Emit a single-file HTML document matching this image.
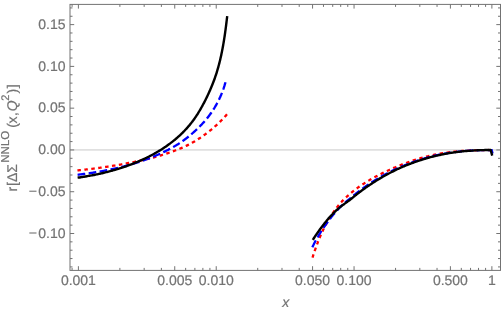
<!DOCTYPE html>
<html><head><meta charset="utf-8"><style>
html,body{margin:0;padding:0;background:#fff;}
body{width:501px;height:311px;overflow:hidden;}
svg{display:block;font-family:"Liberation Sans",sans-serif;will-change:transform;}
text{text-rendering:geometricPrecision;stroke:#737373;stroke-width:0.2px;}
</style></head><body>
<svg width="501" height="311" viewBox="0 0 501 311">
<rect x="0" y="0" width="501" height="311" fill="#fff"/>
<line x1="70.00" y1="149.95" x2="500.50" y2="149.95" stroke="#c8c8c8" stroke-width="1"/>
<path d="M77.43,170.41 C77.61,170.39 78.16,170.34 78.52,170.30 C78.88,170.26 79.25,170.23 79.61,170.19 C79.97,170.15 80.34,170.11 80.70,170.07 C81.06,170.04 81.43,170.00 81.79,169.96 C82.15,169.92 82.52,169.88 82.88,169.84 C83.25,169.80 83.61,169.76 83.97,169.72 C84.34,169.68 84.70,169.64 85.06,169.60 C85.43,169.56 85.79,169.52 86.16,169.48 C86.52,169.44 86.88,169.39 87.25,169.35 C87.61,169.31 87.98,169.27 88.34,169.22 C88.70,169.18 89.07,169.14 89.43,169.10 C89.80,169.05 90.16,169.01 90.52,168.97 C90.89,168.92 91.25,168.88 91.62,168.83 C91.98,168.79 92.34,168.74 92.71,168.70 C93.07,168.65 93.44,168.61 93.80,168.56 C94.17,168.52 94.53,168.47 94.89,168.42 C95.26,168.38 95.62,168.33 95.99,168.28 C96.35,168.24 96.71,168.19 97.08,168.14 C97.44,168.09 97.81,168.04 98.17,168.00 C98.54,167.95 98.90,167.90 99.26,167.85 C99.63,167.80 99.99,167.75 100.36,167.70 C100.72,167.65 101.08,167.60 101.45,167.55 C101.81,167.50 102.18,167.45 102.54,167.40 C102.90,167.34 103.27,167.29 103.63,167.24 C104.00,167.19 104.36,167.13 104.72,167.08 C105.09,167.03 105.45,166.97 105.82,166.92 C106.18,166.87 106.54,166.81 106.91,166.76 C107.27,166.70 107.63,166.65 108.00,166.59 C108.36,166.54 108.72,166.48 109.09,166.43 C109.45,166.37 109.82,166.31 110.18,166.26 C110.54,166.20 110.91,166.14 111.27,166.08 C111.63,166.03 112.00,165.97 112.36,165.91 C112.72,165.85 113.08,165.79 113.45,165.73 C113.81,165.67 114.17,165.61 114.54,165.55 C114.90,165.49 115.26,165.43 115.63,165.37 C115.99,165.31 116.35,165.25 116.71,165.18 C117.08,165.12 117.44,165.06 117.80,164.99 C118.16,164.93 118.53,164.87 118.89,164.80 C119.25,164.74 119.61,164.68 119.97,164.61 C120.34,164.55 120.70,164.48 121.06,164.42 C121.42,164.35 121.78,164.28 122.15,164.22 C122.51,164.15 122.87,164.08 123.23,164.01 C123.59,163.95 123.95,163.88 124.32,163.81 C124.68,163.74 125.04,163.67 125.40,163.60 C125.76,163.53 126.12,163.46 126.48,163.39 C126.84,163.32 127.20,163.25 127.56,163.18 C127.92,163.11 128.29,163.04 128.65,162.96 C129.01,162.89 129.37,162.82 129.73,162.74 C130.09,162.67 130.45,162.60 130.81,162.52 C131.17,162.45 131.53,162.37 131.89,162.30 C132.25,162.22 132.60,162.15 132.96,162.07 C133.32,161.99 133.68,161.91 134.04,161.84 C134.40,161.76 134.76,161.68 135.12,161.61 C135.48,161.53 135.84,161.47 136.19,161.40 C136.55,161.33 136.91,161.26 137.27,161.19 C137.63,161.11 137.99,161.04 138.34,160.97 C138.70,160.90 139.06,160.82 139.42,160.75 C139.77,160.68 140.13,160.60 140.49,160.53 C140.85,160.45 141.20,160.38 141.56,160.30 C141.92,160.23 142.27,160.15 142.63,160.07 C142.99,160.00 143.34,159.92 143.70,159.84 C144.05,159.76 144.41,159.69 144.77,159.61 C145.12,159.53 145.48,159.45 145.83,159.37 C146.19,159.29 146.54,159.21 146.90,159.13 C147.25,159.04 147.61,158.96 147.96,158.88 C148.32,158.80 148.67,158.71 149.03,158.63 C149.38,158.55 149.74,158.46 150.09,158.38 C150.44,158.29 150.80,158.19 151.15,158.10 C151.50,158.00 151.86,157.91 152.21,157.81 C152.56,157.72 152.92,157.62 153.27,157.52 C153.62,157.43 153.97,157.33 154.33,157.23 C154.68,157.14 155.03,157.04 155.38,156.94 C155.73,156.84 156.08,156.74 156.44,156.64 C156.79,156.54 157.14,156.44 157.49,156.34 C157.84,156.24 158.19,156.14 158.54,156.03 C158.89,155.93 159.24,155.83 159.59,155.72 C159.94,155.62 160.29,155.52 160.64,155.41 C160.99,155.31 161.34,155.20 161.69,155.09 C162.04,154.99 162.39,154.88 162.73,154.77 C163.08,154.66 163.43,154.56 163.78,154.45 C164.13,154.34 164.47,154.23 164.82,154.12 C165.17,154.01 165.52,153.90 165.86,153.78 C166.21,153.67 166.56,153.56 166.90,153.45 C167.25,153.33 167.59,153.22 167.94,153.11 C168.29,152.99 168.63,152.88 168.98,152.76 C169.32,152.64 169.67,152.53 170.01,152.41 C170.36,152.29 170.70,152.17 171.04,152.04 C171.39,151.92 171.73,151.80 172.07,151.67 C172.42,151.55 172.76,151.43 173.10,151.30 C173.45,151.17 173.79,151.05 174.13,150.92 C174.47,150.79 174.81,150.66 175.15,150.53 C175.49,150.40 175.83,150.27 176.17,150.14 C176.51,150.01 176.85,149.88 177.19,149.74 C177.53,149.61 177.87,149.47 178.21,149.34 C178.55,149.20 178.88,149.06 179.22,148.93 C179.56,148.79 179.89,148.65 180.23,148.51 C180.57,148.37 180.90,148.23 181.24,148.08 C181.57,147.94 181.91,147.80 182.24,147.65 C182.57,147.51 182.91,147.36 183.24,147.21 C183.57,147.07 183.91,146.92 184.24,146.77 C184.57,146.62 184.90,146.47 185.23,146.31 C185.56,146.16 185.89,146.01 186.22,145.85 C186.55,145.70 186.88,145.54 187.20,145.38 C187.53,145.22 187.86,145.06 188.19,144.90 C188.51,144.74 188.84,144.58 189.16,144.41 C189.49,144.25 189.81,144.09 190.14,143.91 C190.46,143.74 190.78,143.57 191.11,143.39 C191.43,143.21 191.75,143.03 192.07,142.85 C192.39,142.67 192.71,142.49 193.03,142.31 C193.35,142.12 193.67,141.94 193.99,141.75 C194.30,141.57 194.62,141.38 194.94,141.19 C195.25,141.00 195.57,140.81 195.88,140.62 C196.20,140.42 196.51,140.23 196.83,140.03 C197.14,139.84 197.45,139.64 197.76,139.44 C198.07,139.24 198.38,139.04 198.69,138.84 C199.00,138.64 199.31,138.43 199.62,138.23 C199.93,138.02 200.24,137.82 200.54,137.61 C200.85,137.40 201.15,137.19 201.46,136.98 C201.76,136.77 202.07,136.56 202.37,136.34 C202.67,136.13 202.97,135.92 203.28,135.70 C203.58,135.48 203.88,135.26 204.18,135.05 C204.48,134.83 204.77,134.60 205.07,134.39 C205.37,134.17 205.67,133.96 205.96,133.74 C206.26,133.52 206.55,133.30 206.85,133.08 C207.14,132.86 207.43,132.64 207.73,132.42 C208.02,132.20 208.31,131.97 208.60,131.75 C208.89,131.52 209.18,131.30 209.47,131.07 C209.76,130.84 210.04,130.61 210.33,130.38 C210.62,130.15 210.90,129.92 211.19,129.69 C211.47,129.45 211.76,129.22 212.04,128.98 C212.32,128.75 212.60,128.51 212.88,128.27 C213.16,128.03 213.44,127.80 213.72,127.55 C214.00,127.31 214.28,127.07 214.56,126.83 C214.83,126.59 215.11,126.34 215.38,126.10 C215.66,125.85 215.93,125.60 216.20,125.36 C216.48,125.11 216.75,124.86 217.02,124.61 C217.29,124.36 217.56,124.11 217.83,123.86 C218.10,123.60 218.36,123.35 218.63,123.09 C218.90,122.84 219.16,122.58 219.43,122.33 C219.69,122.07 219.95,121.81 220.22,121.55 C220.48,121.29 220.74,121.03 221.00,120.77 C221.26,120.51 221.52,120.25 221.78,119.98 C222.03,119.72 222.29,119.46 222.55,119.19 C222.80,118.92 223.06,118.66 223.31,118.39 C223.56,118.12 223.82,117.85 224.07,117.58 C224.32,117.31 224.57,117.04 224.82,116.77 C225.07,116.50 225.32,116.23 225.56,115.95 C225.81,115.68 226.05,115.41 226.30,115.13 C226.54,114.85 226.91,114.44 227.03,114.30" fill="none" stroke="#f00" stroke-width="2.3" stroke-dasharray="3.5,3.47"/>
<path d="M312.48,257.65 C312.54,257.47 312.71,256.94 312.82,256.59 C312.93,256.23 313.05,255.88 313.16,255.52 C313.28,255.17 313.39,254.81 313.51,254.45 C313.62,254.10 313.74,253.74 313.86,253.39 C313.98,253.03 314.10,252.68 314.21,252.32 C314.33,251.96 314.45,251.61 314.58,251.25 C314.70,250.90 314.82,250.54 314.94,250.19 C315.06,249.83 315.19,249.47 315.31,249.12 C315.44,248.76 315.56,248.41 315.69,248.05 C315.82,247.70 315.94,247.34 316.07,246.98 C316.20,246.63 316.33,246.27 316.46,245.92 C316.59,245.56 316.72,245.21 316.85,244.85 C316.98,244.50 317.12,244.14 317.25,243.79 C317.39,243.43 317.52,243.08 317.66,242.73 C317.79,242.37 317.93,242.02 318.07,241.66 C318.21,241.31 318.35,240.96 318.49,240.60 C318.63,240.25 318.77,239.90 318.91,239.55 C319.05,239.19 319.20,238.84 319.34,238.49 C319.49,238.14 319.63,237.79 319.78,237.44 C319.93,237.09 320.08,236.73 320.23,236.38 C320.38,236.03 320.53,235.68 320.68,235.33 C320.83,234.99 320.98,234.64 321.14,234.29 C321.29,233.94 321.45,233.59 321.61,233.24 C321.76,232.90 321.92,232.55 322.08,232.20 C322.24,231.86 322.40,231.51 322.56,231.17 C322.72,230.82 322.89,230.48 323.05,230.13 C323.22,229.79 323.38,229.44 323.55,229.10 C323.72,228.76 323.89,228.42 324.06,228.08 C324.23,227.73 324.40,227.39 324.57,227.05 C324.74,226.71 324.92,226.37 325.09,226.03 C325.27,225.70 325.45,225.36 325.63,225.02 C325.80,224.68 325.99,224.35 326.17,224.01 C326.35,223.68 326.53,223.34 326.72,223.01 C326.90,222.67 327.09,222.34 327.27,222.01 C327.46,221.67 327.65,221.34 327.84,221.01 C328.03,220.68 328.22,220.35 328.42,220.02 C328.61,219.69 328.80,219.36 329.00,219.04 C329.20,218.71 329.39,218.38 329.59,218.06 C329.79,217.73 329.99,217.41 330.19,217.09 C330.40,216.76 330.60,216.44 330.80,216.12 C331.01,215.80 331.22,215.48 331.42,215.16 C331.63,214.84 331.84,214.52 332.05,214.21 C332.26,213.89 332.47,213.57 332.69,213.26 C332.90,212.94 333.11,212.63 333.33,212.32 C333.55,212.01 333.76,211.70 333.98,211.39 C334.20,211.08 334.42,210.77 334.64,210.46 C334.87,210.15 335.09,209.84 335.31,209.54 C335.54,209.23 335.76,208.93 335.99,208.63 C336.22,208.33 336.45,208.02 336.68,207.72 C336.91,207.42 337.14,207.13 337.37,206.83 C337.61,206.53 337.84,206.24 338.08,205.94 C338.31,205.65 338.55,205.35 338.79,205.06 C339.03,204.77 339.27,204.48 339.51,204.19 C339.75,203.90 339.99,203.62 340.24,203.34 C340.48,203.06 340.73,202.79 340.97,202.52 C341.22,202.25 341.47,201.98 341.72,201.72 C341.97,201.45 342.22,201.18 342.47,200.92 C342.72,200.66 342.98,200.39 343.23,200.13 C343.49,199.87 343.74,199.61 344.00,199.35 C344.26,199.10 344.52,198.84 344.78,198.59 C345.04,198.33 345.30,198.08 345.56,197.83 C345.83,197.58 346.09,197.33 346.36,197.08 C346.62,196.84 346.89,196.59 347.16,196.35 C347.43,196.10 347.70,195.86 347.97,195.62 C348.24,195.38 348.51,195.14 348.79,194.91 C349.06,194.67 349.34,194.44 349.61,194.20 C349.89,193.97 350.17,193.73 350.44,193.49 C350.72,193.25 351.00,193.01 351.29,192.77 C351.57,192.53 351.85,192.30 352.13,192.06 C352.42,191.82 352.70,191.59 352.99,191.36 C353.27,191.13 353.56,190.90 353.85,190.67 C354.14,190.44 354.43,190.21 354.72,189.99 C355.01,189.76 355.30,189.54 355.60,189.31 C355.89,189.09 356.18,188.87 356.48,188.65 C356.78,188.43 357.07,188.21 357.37,187.99 C357.67,187.78 357.97,187.56 358.27,187.35 C358.57,187.13 358.87,186.92 359.17,186.71 C359.47,186.50 359.78,186.29 360.08,186.08 C360.38,185.87 360.69,185.67 361.00,185.46 C361.30,185.26 361.61,185.05 361.92,184.85 C362.23,184.65 362.54,184.44 362.85,184.24 C363.16,184.04 363.47,183.84 363.78,183.65 C364.09,183.45 364.41,183.25 364.72,183.05 C365.03,182.86 365.35,182.66 365.67,182.46 C365.98,182.26 366.30,182.06 366.62,181.87 C366.93,181.67 367.25,181.48 367.57,181.28 C367.89,181.09 368.21,180.90 368.53,180.70 C368.86,180.51 369.18,180.32 369.50,180.13 C369.82,179.94 370.15,179.75 370.47,179.56 C370.80,179.37 371.12,179.19 371.45,179.00 C371.78,178.81 372.10,178.63 372.43,178.44 C372.76,178.26 373.09,178.07 373.42,177.89 C373.75,177.71 374.08,177.52 374.41,177.34 C374.74,177.16 375.07,176.98 375.40,176.80 C375.73,176.62 376.07,176.44 376.40,176.27 C376.74,176.09 377.07,175.91 377.40,175.74 C377.74,175.56 378.08,175.38 378.41,175.21 C378.75,175.04 379.09,174.86 379.42,174.69 C379.76,174.52 380.10,174.34 380.44,174.17 C380.78,174.00 381.12,173.83 381.46,173.66 C381.80,173.49 382.14,173.32 382.48,173.16 C382.82,172.99 383.16,172.82 383.50,172.66 C383.84,172.49 384.19,172.32 384.53,172.16 C384.87,171.99 385.22,171.83 385.56,171.67 C385.91,171.50 386.25,171.34 386.60,171.18 C386.94,171.02 387.29,170.86 387.63,170.70 C387.98,170.54 388.32,170.38 388.67,170.22 C389.02,170.06 389.37,169.90 389.71,169.74 C390.06,169.59 390.41,169.43 390.76,169.27 C391.11,169.12 391.46,168.96 391.80,168.81 C392.15,168.66 392.50,168.50 392.85,168.35 C393.20,168.20 393.55,168.04 393.90,167.89 C394.25,167.74 394.61,167.59 394.96,167.44 C395.31,167.29 395.66,167.14 396.01,166.99 C396.36,166.84 396.71,166.69 397.07,166.54 C397.42,166.40 397.77,166.25 398.12,166.10 C398.48,165.96 398.83,165.81 399.18,165.67 C399.53,165.52 399.89,165.38 400.24,165.23 C400.59,165.09 400.95,164.96 401.30,164.82 C401.66,164.68 402.01,164.55 402.36,164.41 C402.72,164.27 403.07,164.14 403.43,164.00 C403.78,163.87 404.14,163.73 404.49,163.60 C404.85,163.46 405.20,163.33 405.56,163.20 C405.91,163.07 406.27,162.94 406.62,162.81 C406.98,162.67 407.33,162.55 407.69,162.42 C408.05,162.29 408.40,162.16 408.76,162.03 C409.12,161.90 409.47,161.78 409.83,161.65 C410.19,161.53 410.54,161.40 410.90,161.28 C411.26,161.15 411.62,161.03 411.98,160.91 C412.33,160.78 412.69,160.66 413.05,160.54 C413.41,160.42 413.77,160.30 414.13,160.18 C414.49,160.07 414.84,159.95 415.20,159.83 C415.56,159.71 415.92,159.60 416.28,159.48 C416.64,159.37 417.00,159.26 417.36,159.14 C417.73,159.03 418.09,158.92 418.45,158.81 C418.81,158.70 419.17,158.59 419.53,158.48 C419.89,158.37 420.26,158.27 420.62,158.16 C420.98,158.05 421.34,157.95 421.71,157.84 C422.07,157.74 422.43,157.64 422.80,157.54 C423.16,157.43 423.52,157.33 423.89,157.24 C424.25,157.14 424.62,157.04 424.98,156.94 C425.35,156.85 425.71,156.75 426.08,156.66 C426.44,156.56 426.81,156.47 427.18,156.38 C427.54,156.29 427.91,156.19 428.28,156.11 C428.64,156.02 429.01,155.93 429.38,155.84 C429.75,155.76 430.11,155.67 430.48,155.59 C430.85,155.50 431.22,155.42 431.59,155.34 C431.96,155.26 432.33,155.17 432.70,155.10 C433.06,155.02 433.43,154.94 433.80,154.86 C434.17,154.78 434.55,154.71 434.92,154.63 C435.29,154.56 435.66,154.48 436.03,154.41 C436.40,154.33 436.77,154.26 437.14,154.19 C437.52,154.12 437.89,154.05 438.26,153.98 C438.63,153.91 439.01,153.84 439.38,153.77 C439.75,153.70 440.12,153.64 440.50,153.57 C440.87,153.51 441.25,153.44 441.62,153.38 C441.99,153.32 442.37,153.26 442.74,153.19 C443.12,153.13 443.49,153.07 443.87,153.02 C444.24,152.96 444.62,152.90 444.99,152.84 C445.37,152.79 445.74,152.73 446.12,152.68 C446.49,152.62 446.87,152.57 447.25,152.52 C447.62,152.46 448.00,152.41 448.37,152.36 C448.75,152.31 449.13,152.26 449.51,152.21 C449.88,152.17 450.26,152.12 450.64,152.07 C451.01,152.03 451.39,151.98 451.77,151.94 C452.15,151.89 452.53,151.85 452.90,151.81 C453.28,151.76 453.66,151.72 454.04,151.68 C454.42,151.64 454.80,151.60 455.17,151.56 C455.55,151.53 455.93,151.49 456.31,151.45 C456.69,151.41 457.07,151.38 457.45,151.34 C457.83,151.31 458.21,151.28 458.59,151.24 C458.97,151.21 459.35,151.18 459.73,151.15 C460.11,151.11 460.49,151.08 460.87,151.05 C461.25,151.03 461.63,151.00 462.01,150.97 C462.39,150.94 462.77,150.91 463.15,150.89 C463.53,150.86 463.91,150.84 464.29,150.81 C464.67,150.79 465.05,150.76 465.43,150.74 C465.81,150.72 466.19,150.70 466.57,150.68 C466.96,150.65 467.34,150.63 467.72,150.61 C468.10,150.59 468.48,150.58 468.86,150.56 C469.24,150.54 469.62,150.52 470.01,150.51 C470.39,150.49 470.77,150.46 471.15,150.45 C471.53,150.43 471.91,150.41 472.30,150.39 C472.68,150.37 473.06,150.35 473.44,150.34 C473.82,150.32 474.20,150.30 474.59,150.29 C474.97,150.27 475.35,150.26 475.73,150.25 C476.11,150.23 476.49,150.22 476.88,150.21 C477.26,150.19 477.64,150.18 478.02,150.17 C478.40,150.16 478.79,150.15 479.17,150.14 C479.55,150.13 479.93,150.12 480.31,150.11 C480.70,150.10 481.08,150.10 481.46,150.09 C481.84,150.08 482.22,150.07 482.60,150.07 C482.99,150.06 483.37,150.06 483.75,150.05 C484.13,150.05 484.51,150.04 484.89,150.04 C485.28,150.04 485.66,150.03 486.04,150.03 C486.42,150.03 486.80,150.03 487.18,150.03 C487.57,150.03 487.95,150.02 488.33,150.02 C488.71,150.02 489.09,150.02 489.47,150.03 C489.85,150.03 490.43,150.03 490.62,150.03" fill="none" stroke="#f00" stroke-width="2.3" stroke-dasharray="3.5,3.47"/>
<path d="M77.62,174.77 C77.82,174.74 78.42,174.67 78.82,174.62 C79.22,174.57 79.62,174.52 80.02,174.47 C80.42,174.42 80.82,174.37 81.22,174.32 C81.62,174.27 82.03,174.22 82.43,174.17 C82.83,174.11 83.23,174.06 83.64,174.01 C84.04,173.95 84.44,173.90 84.84,173.84 C85.25,173.79 85.65,173.73 86.06,173.68 C86.46,173.62 86.86,173.56 87.27,173.51 C87.67,173.45 88.08,173.39 88.48,173.33 C88.89,173.27 89.30,173.21 89.70,173.15 C90.11,173.09 90.51,173.03 90.92,172.97 C91.33,172.91 91.73,172.85 92.14,172.79 C92.55,172.72 92.95,172.66 93.36,172.60 C93.77,172.53 94.17,172.47 94.58,172.40 C94.99,172.34 95.40,172.27 95.80,172.21 C96.21,172.14 96.62,172.07 97.03,172.00 C97.44,171.94 97.84,171.87 98.25,171.80 C98.66,171.73 99.07,171.66 99.48,171.59 C99.89,171.51 100.30,171.44 100.70,171.37 C101.11,171.30 101.52,171.22 101.93,171.15 C102.34,171.08 102.75,171.00 103.16,170.93 C103.57,170.85 103.98,170.77 104.39,170.70 C104.80,170.62 105.21,170.54 105.61,170.46 C106.02,170.39 106.43,170.31 106.84,170.23 C107.25,170.15 107.66,170.06 108.07,169.98 C108.48,169.90 108.89,169.82 109.30,169.73 C109.71,169.65 110.12,169.57 110.53,169.48 C110.94,169.40 111.35,169.31 111.76,169.22 C112.16,169.14 112.57,169.05 112.98,168.96 C113.39,168.87 113.80,168.78 114.21,168.69 C114.62,168.60 115.03,168.51 115.44,168.42 C115.84,168.33 116.25,168.23 116.66,168.14 C117.07,168.04 117.48,167.95 117.89,167.85 C118.29,167.76 118.70,167.66 119.11,167.56 C119.52,167.47 119.93,167.37 120.33,167.27 C120.74,167.17 121.15,167.07 121.56,166.97 C121.96,166.87 122.37,166.76 122.78,166.66 C123.18,166.56 123.59,166.45 124.00,166.35 C124.40,166.24 124.81,166.14 125.21,166.03 C125.62,165.92 126.03,165.82 126.43,165.71 C126.84,165.60 127.24,165.49 127.65,165.38 C128.05,165.27 128.46,165.15 128.86,165.04 C129.26,164.93 129.67,164.81 130.07,164.70 C130.48,164.58 130.88,164.47 131.28,164.35 C131.68,164.23 132.09,164.12 132.49,164.00 C132.89,163.88 133.29,163.76 133.70,163.64 C134.10,163.51 134.50,163.39 134.90,163.27 C135.30,163.14 135.70,163.02 136.10,162.89 C136.50,162.77 136.90,162.64 137.30,162.52 C137.70,162.39 138.10,162.26 138.49,162.13 C138.89,162.00 139.29,161.87 139.69,161.74 C140.09,161.60 140.48,161.47 140.88,161.34 C141.28,161.20 141.67,161.07 142.07,160.93 C142.46,160.79 142.86,160.66 143.25,160.52 C143.65,160.38 144.04,160.24 144.43,160.10 C144.83,159.95 145.22,159.81 145.61,159.67 C146.01,159.53 146.40,159.38 146.79,159.23 C147.18,159.09 147.57,158.94 147.96,158.79 C148.35,158.65 148.74,158.50 149.13,158.35 C149.52,158.19 149.91,158.04 150.30,157.89 C150.68,157.74 151.07,157.58 151.46,157.43 C151.84,157.27 152.23,157.11 152.62,156.96 C153.00,156.80 153.39,156.64 153.77,156.48 C154.15,156.32 154.54,156.16 154.92,155.99 C155.30,155.83 155.68,155.67 156.07,155.50 C156.45,155.34 156.83,155.17 157.21,155.00 C157.59,154.83 157.97,154.66 158.35,154.49 C158.72,154.32 159.10,154.15 159.48,153.98 C159.86,153.80 160.23,153.63 160.61,153.46 C160.98,153.29 161.36,153.12 161.73,152.95 C162.11,152.77 162.48,152.60 162.85,152.42 C163.22,152.25 163.59,152.07 163.97,151.89 C164.34,151.71 164.71,151.53 165.08,151.35 C165.44,151.17 165.81,150.99 166.18,150.81 C166.55,150.62 166.91,150.44 167.28,150.25 C167.65,150.06 168.01,149.88 168.37,149.69 C168.74,149.50 169.10,149.31 169.46,149.11 C169.83,148.92 170.19,148.73 170.55,148.53 C170.91,148.34 171.27,148.14 171.63,147.94 C171.98,147.74 172.34,147.55 172.70,147.34 C173.06,147.14 173.41,146.94 173.77,146.74 C174.12,146.53 174.47,146.33 174.83,146.12 C175.18,145.91 175.53,145.71 175.88,145.50 C176.23,145.29 176.58,145.08 176.93,144.86 C177.28,144.65 177.63,144.44 177.98,144.22 C178.32,144.00 178.67,143.79 179.01,143.57 C179.36,143.35 179.70,143.13 180.04,142.91 C180.39,142.68 180.73,142.44 181.07,142.20 C181.41,141.96 181.75,141.72 182.08,141.48 C182.42,141.24 182.76,141.00 183.10,140.76 C183.43,140.52 183.77,140.27 184.10,140.03 C184.43,139.78 184.77,139.53 185.10,139.28 C185.43,139.03 185.76,138.78 186.09,138.53 C186.42,138.28 186.74,138.02 187.07,137.77 C187.40,137.51 187.72,137.26 188.05,137.00 C188.37,136.74 188.69,136.48 189.02,136.22 C189.34,135.96 189.66,135.69 189.98,135.43 C190.30,135.16 190.61,134.90 190.93,134.63 C191.25,134.36 191.56,134.09 191.88,133.82 C192.19,133.55 192.50,133.28 192.81,133.00 C193.12,132.73 193.43,132.45 193.74,132.18 C194.05,131.90 194.36,131.62 194.66,131.34 C194.97,131.06 195.27,130.78 195.58,130.50 C195.88,130.23 196.18,129.95 196.48,129.67 C196.78,129.39 197.08,129.11 197.37,128.82 C197.67,128.54 197.97,128.25 198.26,127.97 C198.55,127.68 198.85,127.39 199.14,127.10 C199.43,126.81 199.72,126.52 200.00,126.22 C200.29,125.93 200.58,125.64 200.86,125.34 C201.14,125.04 201.43,124.75 201.71,124.45 C201.99,124.15 202.27,123.84 202.55,123.54 C202.82,123.24 203.10,122.93 203.37,122.63 C203.65,122.32 203.92,122.02 204.19,121.71 C204.46,121.40 204.73,121.09 205.00,120.77 C205.27,120.46 205.53,120.15 205.80,119.83 C206.06,119.52 206.32,119.20 206.58,118.88 C206.84,118.56 207.10,118.24 207.36,117.92 C207.62,117.60 207.87,117.27 208.12,116.95 C208.38,116.62 208.63,116.30 208.88,115.97 C209.13,115.64 209.37,115.31 209.62,114.98 C209.86,114.65 210.11,114.32 210.35,113.98 C210.59,113.65 210.83,113.31 211.07,112.97 C211.31,112.63 211.54,112.30 211.78,111.95 C212.01,111.61 212.24,111.27 212.47,110.93 C212.70,110.58 212.93,110.24 213.16,109.89 C213.38,109.54 213.60,109.19 213.83,108.84 C214.05,108.49 214.27,108.14 214.49,107.79 C214.70,107.43 214.92,107.08 215.13,106.72 C215.34,106.36 215.56,106.01 215.76,105.65 C215.97,105.29 216.18,104.92 216.39,104.56 C216.59,104.20 216.79,103.83 216.99,103.47 C217.19,103.10 217.39,102.73 217.59,102.36 C217.78,101.99 217.98,101.62 218.17,101.25 C218.36,100.88 218.55,100.50 218.73,100.12 C218.92,99.75 219.11,99.37 219.29,98.99 C219.47,98.61 219.65,98.23 219.83,97.85 C220.01,97.47 220.18,97.08 220.35,96.70 C220.53,96.31 220.70,95.93 220.87,95.54 C221.03,95.15 221.20,94.76 221.36,94.37 C221.53,93.97 221.69,93.58 221.84,93.18 C222.00,92.79 222.16,92.39 222.31,91.99 C222.47,91.60 222.62,91.20 222.77,90.79 C222.91,90.39 223.06,89.99 223.20,89.59 C223.35,89.18 223.49,88.77 223.63,88.37 C223.76,87.96 223.90,87.55 224.03,87.14 C224.17,86.73 224.30,86.31 224.43,85.90 C224.55,85.49 224.68,85.07 224.80,84.65 C224.93,84.23 225.05,83.82 225.16,83.40 C225.28,82.97 225.45,82.34 225.51,82.13" fill="none" stroke="#00f" stroke-width="2.3" stroke-dasharray="7.7,3.42"/>
<path d="M312.32,247.20 C312.41,247.03 312.65,246.54 312.81,246.21 C312.97,245.88 313.13,245.55 313.30,245.22 C313.46,244.89 313.63,244.56 313.80,244.23 C313.96,243.91 314.13,243.58 314.30,243.25 C314.47,242.93 314.64,242.60 314.81,242.28 C314.98,241.95 315.15,241.63 315.33,241.31 C315.50,240.99 315.67,240.67 315.85,240.34 C316.02,240.02 316.20,239.70 316.38,239.39 C316.56,239.07 316.73,238.75 316.91,238.43 C317.09,238.11 317.27,237.80 317.46,237.48 C317.64,237.17 317.82,236.85 318.01,236.54 C318.19,236.22 318.37,235.91 318.56,235.60 C318.75,235.28 318.93,234.97 319.12,234.66 C319.31,234.35 319.50,234.04 319.69,233.73 C319.88,233.42 320.07,233.12 320.26,232.81 C320.45,232.50 320.65,232.19 320.84,231.89 C321.03,231.58 321.23,231.28 321.43,230.97 C321.62,230.67 321.82,230.37 322.02,230.06 C322.22,229.76 322.42,229.46 322.62,229.16 C322.82,228.86 323.02,228.56 323.22,228.26 C323.42,227.96 323.62,227.66 323.83,227.36 C324.03,227.07 324.24,226.77 324.44,226.47 C324.65,226.18 324.86,225.89 325.06,225.59 C325.27,225.29 325.48,224.99 325.69,224.69 C325.90,224.39 326.11,224.09 326.32,223.80 C326.54,223.50 326.75,223.20 326.96,222.91 C327.18,222.61 327.39,222.32 327.61,222.02 C327.82,221.73 328.04,221.44 328.26,221.14 C328.47,220.85 328.69,220.56 328.91,220.27 C329.13,219.98 329.35,219.69 329.57,219.40 C329.79,219.11 330.02,218.82 330.24,218.54 C330.46,218.25 330.69,217.96 330.91,217.68 C331.14,217.39 331.36,217.10 331.59,216.82 C331.82,216.54 332.04,216.25 332.27,215.97 C332.50,215.69 332.73,215.41 332.96,215.12 C333.19,214.84 333.42,214.56 333.65,214.28 C333.89,214.01 334.12,213.73 334.35,213.45 C334.59,213.17 334.82,212.89 335.06,212.62 C335.29,212.35 335.53,212.08 335.77,211.82 C336.00,211.55 336.24,211.28 336.48,211.02 C336.72,210.75 336.96,210.49 337.20,210.22 C337.44,209.96 337.68,209.69 337.93,209.43 C338.17,209.17 338.41,208.91 338.66,208.65 C338.90,208.39 339.14,208.13 339.39,207.87 C339.64,207.61 339.88,207.35 340.13,207.11 C340.38,206.86 340.63,206.64 340.88,206.40 C341.13,206.17 341.38,205.94 341.63,205.71 C341.88,205.48 342.13,205.25 342.38,205.02 C342.63,204.79 342.89,204.56 343.14,204.33 C343.39,204.10 343.65,203.88 343.91,203.65 C344.16,203.43 344.42,203.20 344.67,202.98 C344.93,202.75 345.19,202.53 345.45,202.31 C345.71,202.09 345.97,201.86 346.23,201.64 C346.49,201.42 346.75,201.20 347.01,200.99 C347.27,200.77 347.54,200.55 347.80,200.33 C348.06,200.12 348.33,199.90 348.59,199.69 C348.86,199.47 349.12,199.26 349.39,199.04 C349.66,198.83 349.92,198.62 350.19,198.39 C350.46,198.17 350.73,197.93 351.00,197.69 C351.27,197.46 351.54,197.23 351.81,197.00 C352.08,196.77 352.35,196.54 352.62,196.31 C352.90,196.09 353.17,195.86 353.44,195.63 C353.72,195.41 353.99,195.18 354.27,194.95 C354.54,194.73 354.82,194.51 355.09,194.28 C355.37,194.06 355.65,193.84 355.93,193.62 C356.21,193.39 356.48,193.17 356.76,192.95 C357.04,192.73 357.32,192.51 357.60,192.30 C357.89,192.08 358.17,191.86 358.45,191.65 C358.73,191.43 359.01,191.21 359.30,191.00 C359.58,190.78 359.87,190.57 360.15,190.36 C360.44,190.14 360.72,189.93 361.01,189.72 C361.30,189.51 361.58,189.30 361.87,189.09 C362.16,188.88 362.45,188.67 362.74,188.46 C363.02,188.26 363.31,188.05 363.60,187.84 C363.89,187.64 364.19,187.43 364.48,187.23 C364.77,187.02 365.06,186.82 365.35,186.61 C365.65,186.41 365.94,186.20 366.23,186.00 C366.53,185.79 366.82,185.59 367.12,185.38 C367.41,185.18 367.71,184.98 368.01,184.78 C368.30,184.58 368.60,184.38 368.90,184.18 C369.20,183.98 369.49,183.78 369.79,183.58 C370.09,183.38 370.39,183.19 370.69,182.99 C370.99,182.80 371.29,182.60 371.60,182.41 C371.90,182.21 372.20,182.02 372.50,181.83 C372.80,181.63 373.11,181.44 373.41,181.25 C373.71,181.06 374.02,180.87 374.32,180.68 C374.63,180.49 374.93,180.30 375.24,180.11 C375.55,179.93 375.85,179.74 376.16,179.55 C376.47,179.37 376.78,179.18 377.08,179.00 C377.39,178.82 377.70,178.63 378.01,178.45 C378.32,178.27 378.63,178.09 378.94,177.91 C379.25,177.72 379.56,177.54 379.87,177.37 C380.18,177.19 380.50,177.01 380.81,176.83 C381.12,176.65 381.43,176.48 381.75,176.30 C382.06,176.13 382.38,175.95 382.69,175.78 C383.01,175.60 383.32,175.43 383.64,175.26 C383.95,175.09 384.27,174.92 384.59,174.75 C384.90,174.58 385.22,174.41 385.54,174.24 C385.85,174.07 386.17,173.90 386.49,173.73 C386.81,173.57 387.13,173.40 387.45,173.24 C387.77,173.07 388.09,172.91 388.41,172.74 C388.73,172.58 389.05,172.42 389.37,172.26 C389.69,172.09 390.02,171.93 390.34,171.77 C390.66,171.61 390.98,171.45 391.31,171.30 C391.63,171.14 391.96,170.98 392.28,170.82 C392.60,170.67 392.93,170.51 393.25,170.36 C393.58,170.20 393.90,170.05 394.23,169.89 C394.56,169.74 394.88,169.59 395.21,169.44 C395.54,169.29 395.87,169.14 396.19,168.99 C396.52,168.84 396.85,168.69 397.18,168.54 C397.51,168.39 397.84,168.24 398.17,168.10 C398.49,167.95 398.82,167.81 399.15,167.66 C399.49,167.52 399.82,167.37 400.15,167.23 C400.48,167.09 400.81,166.94 401.14,166.80 C401.47,166.66 401.81,166.52 402.14,166.38 C402.47,166.24 402.80,166.10 403.14,165.96 C403.47,165.82 403.81,165.69 404.14,165.55 C404.47,165.41 404.81,165.28 405.14,165.14 C405.48,165.01 405.81,164.87 406.15,164.74 C406.49,164.61 406.82,164.47 407.16,164.34 C407.49,164.21 407.83,164.08 408.17,163.95 C408.51,163.82 408.84,163.69 409.18,163.56 C409.52,163.43 409.86,163.31 410.20,163.18 C410.53,163.05 410.87,162.93 411.21,162.80 C411.55,162.68 411.89,162.56 412.23,162.43 C412.57,162.31 412.91,162.19 413.25,162.07 C413.59,161.95 413.93,161.83 414.27,161.71 C414.62,161.59 414.96,161.47 415.30,161.35 C415.64,161.23 415.98,161.12 416.32,161.00 C416.67,160.89 417.01,160.77 417.35,160.66 C417.70,160.54 418.04,160.43 418.38,160.32 C418.73,160.20 419.07,160.09 419.41,159.98 C419.76,159.87 420.10,159.76 420.45,159.65 C420.79,159.54 421.14,159.44 421.48,159.33 C421.83,159.22 422.17,159.12 422.52,159.01 C422.86,158.91 423.21,158.80 423.56,158.70 C423.90,158.59 424.25,158.49 424.60,158.39 C424.94,158.29 425.29,158.19 425.64,158.09 C425.98,157.99 426.33,157.89 426.68,157.79 C427.03,157.69 427.38,157.59 427.72,157.50 C428.07,157.40 428.42,157.30 428.77,157.21 C429.12,157.11 429.47,157.02 429.82,156.93 C430.16,156.83 430.51,156.74 430.86,156.65 C431.21,156.56 431.56,156.47 431.91,156.38 C432.26,156.29 432.61,156.20 432.96,156.11 C433.31,156.03 433.66,155.94 434.01,155.85 C434.37,155.77 434.72,155.68 435.07,155.60 C435.42,155.52 435.77,155.44 436.12,155.36 C436.47,155.29 436.82,155.21 437.18,155.13 C437.53,155.06 437.88,154.98 438.23,154.91 C438.58,154.83 438.94,154.76 439.29,154.69 C439.64,154.62 439.99,154.55 440.35,154.48 C440.70,154.40 441.05,154.34 441.41,154.27 C441.76,154.20 442.11,154.13 442.47,154.06 C442.82,154.00 443.17,153.93 443.53,153.87 C443.88,153.80 444.23,153.74 444.59,153.67 C444.94,153.61 445.30,153.55 445.65,153.49 C446.01,153.42 446.36,153.36 446.71,153.30 C447.07,153.24 447.42,153.18 447.78,153.13 C448.13,153.07 448.49,153.01 448.84,152.96 C449.20,152.90 449.55,152.84 449.91,152.79 C450.26,152.73 450.62,152.68 450.97,152.63 C451.33,152.58 451.68,152.52 452.04,152.47 C452.39,152.42 452.75,152.37 453.11,152.32 C453.46,152.27 453.82,152.23 454.17,152.18 C454.53,152.13 454.88,152.08 455.24,152.04 C455.60,151.99 455.95,151.95 456.31,151.91 C456.66,151.86 457.02,151.82 457.38,151.78 C457.73,151.73 458.09,151.69 458.45,151.65 C458.80,151.61 459.16,151.57 459.51,151.54 C459.87,151.50 460.23,151.46 460.58,151.42 C460.94,151.39 461.30,151.35 461.65,151.32 C462.01,151.28 462.37,151.25 462.72,151.21 C463.08,151.18 463.44,151.15 463.79,151.12 C464.15,151.09 464.51,151.06 464.86,151.03 C465.22,151.00 465.58,150.97 465.93,150.94 C466.29,150.91 466.65,150.89 467.00,150.86 C467.36,150.83 467.72,150.81 468.07,150.78 C468.43,150.76 468.79,150.74 469.14,150.71 C469.50,150.69 469.86,150.67 470.21,150.65 C470.57,150.62 470.93,150.60 471.28,150.57 C471.64,150.55 472.00,150.52 472.35,150.50 C472.71,150.48 473.06,150.46 473.42,150.44 C473.78,150.42 474.13,150.40 474.49,150.38 C474.85,150.36 475.20,150.34 475.56,150.32 C475.92,150.31 476.27,150.29 476.63,150.27 C476.98,150.26 477.34,150.25 477.70,150.23 C478.05,150.22 478.41,150.21 478.76,150.19 C479.12,150.18 479.47,150.17 479.83,150.16 C480.19,150.15 480.54,150.14 480.90,150.13 C481.25,150.13 481.61,150.12 481.96,150.11 C482.32,150.11 482.67,150.10 483.03,150.10 C483.38,150.09 483.74,150.09 484.09,150.09 C484.45,150.08 484.80,150.08 485.16,150.08 C485.51,150.08 485.87,150.08 486.22,150.08 C486.58,150.08 486.93,150.08 487.29,150.09 C487.64,150.09 488.00,150.09 488.35,150.10 C488.70,150.10 489.06,150.11 489.41,150.11 C489.76,150.12 490.29,150.13 490.47,150.14 L491.7,150.2 L492.6,153.5" fill="none" stroke="#00f" stroke-width="2.3" stroke-dasharray="7.7,3.42"/>
<path d="M77.60,177.67 C77.86,177.63 78.64,177.52 79.16,177.45 C79.68,177.38 80.21,177.30 80.73,177.22 C81.25,177.14 81.78,177.06 82.30,176.98 C82.83,176.90 83.35,176.82 83.88,176.74 C84.40,176.65 84.93,176.57 85.46,176.48 C85.98,176.39 86.51,176.30 87.04,176.21 C87.56,176.12 88.09,176.03 88.62,175.93 C89.15,175.84 89.68,175.74 90.21,175.65 C90.74,175.55 91.27,175.45 91.80,175.35 C92.33,175.25 92.86,175.15 93.39,175.04 C93.92,174.94 94.45,174.83 94.98,174.72 C95.51,174.62 96.05,174.51 96.58,174.40 C97.11,174.28 97.64,174.17 98.17,174.06 C98.70,173.94 99.24,173.83 99.77,173.71 C100.30,173.59 100.83,173.47 101.37,173.35 C101.90,173.22 102.43,173.10 102.96,172.98 C103.50,172.85 104.03,172.72 104.56,172.59 C105.09,172.46 105.62,172.33 106.16,172.20 C106.69,172.07 107.22,171.93 107.75,171.79 C108.28,171.66 108.82,171.52 109.35,171.38 C109.88,171.24 110.41,171.10 110.94,170.95 C111.47,170.81 112.00,170.66 112.53,170.51 C113.06,170.37 113.59,170.21 114.12,170.06 C114.65,169.91 115.18,169.76 115.71,169.60 C116.24,169.44 116.77,169.29 117.29,169.13 C117.82,168.97 118.35,168.81 118.88,168.64 C119.40,168.48 119.93,168.31 120.46,168.14 C120.98,167.98 121.51,167.81 122.03,167.63 C122.56,167.46 123.08,167.29 123.61,167.11 C124.13,166.94 124.65,166.76 125.17,166.58 C125.70,166.40 126.22,166.21 126.74,166.03 C127.26,165.85 127.78,165.66 128.30,165.47 C128.82,165.28 129.34,165.09 129.85,164.90 C130.37,164.71 130.89,164.51 131.40,164.31 C131.92,164.12 132.43,163.92 132.95,163.72 C133.46,163.52 133.98,163.31 134.49,163.11 C135.00,162.90 135.51,162.69 136.02,162.48 C136.53,162.27 137.04,162.06 137.55,161.85 C138.05,161.63 138.56,161.42 139.07,161.20 C139.57,160.98 140.08,160.76 140.58,160.53 C141.08,160.31 141.59,160.08 142.09,159.86 C142.59,159.63 143.09,159.40 143.58,159.17 C144.08,158.93 144.58,158.70 145.08,158.46 C145.57,158.22 146.07,157.99 146.56,157.74 C147.05,157.50 147.54,157.26 148.03,157.01 C148.52,156.77 149.01,156.52 149.50,156.27 C149.99,156.02 150.47,155.76 150.96,155.51 C151.44,155.25 151.92,154.99 152.40,154.73 C152.88,154.47 153.36,154.21 153.84,153.95 C154.32,153.68 154.80,153.41 155.27,153.14 C155.74,152.87 156.22,152.60 156.69,152.33 C157.16,152.05 157.63,151.77 158.10,151.49 C158.56,151.21 159.03,150.93 159.49,150.65 C159.96,150.36 160.42,150.08 160.88,149.79 C161.34,149.50 161.80,149.20 162.25,148.91 C162.71,148.62 163.17,148.32 163.62,148.02 C164.07,147.72 164.52,147.42 164.97,147.11 C165.42,146.81 165.86,146.50 166.31,146.19 C166.75,145.88 167.20,145.57 167.64,145.25 C168.08,144.94 168.51,144.62 168.95,144.30 C169.39,143.98 169.82,143.66 170.25,143.33 C170.68,143.01 171.11,142.68 171.54,142.35 C171.97,142.02 172.39,141.69 172.81,141.35 C173.24,141.02 173.66,140.68 174.07,140.34 C174.49,140.00 174.91,139.65 175.32,139.31 C175.73,138.96 176.14,138.61 176.55,138.26 C176.96,137.91 177.37,137.55 177.77,137.20 C178.17,136.84 178.57,136.48 178.97,136.12 C179.37,135.75 179.76,135.39 180.16,135.02 C180.55,134.65 180.94,134.28 181.33,133.91 C181.71,133.53 182.10,133.16 182.48,132.78 C182.86,132.40 183.24,132.02 183.62,131.63 C184.00,131.25 184.37,130.86 184.74,130.47 C185.11,130.08 185.48,129.69 185.85,129.29 C186.21,128.90 186.58,128.50 186.94,128.10 C187.30,127.69 187.65,127.29 188.01,126.88 C188.36,126.47 188.71,126.06 189.06,125.65 C189.41,125.24 189.75,124.82 190.09,124.40 C190.44,123.99 190.77,123.56 191.11,123.14 C191.45,122.71 191.78,122.29 192.11,121.86 C192.44,121.43 192.76,120.99 193.09,120.56 C193.41,120.12 193.73,119.68 194.05,119.24 C194.36,118.80 194.68,118.35 194.99,117.90 C195.30,117.45 195.61,117.00 195.91,116.55 C196.21,116.10 196.51,115.64 196.81,115.18 C197.11,114.73 197.41,114.27 197.70,113.80 C197.99,113.34 198.28,112.87 198.57,112.41 C198.86,111.94 199.14,111.47 199.42,111.00 C199.70,110.53 199.98,110.06 200.26,109.58 C200.53,109.11 200.81,108.63 201.08,108.16 C201.35,107.68 201.62,107.20 201.88,106.72 C202.15,106.24 202.41,105.76 202.68,105.27 C202.94,104.79 203.20,104.31 203.45,103.82 C203.71,103.34 203.97,102.85 204.22,102.36 C204.47,101.88 204.72,101.39 204.97,100.90 C205.22,100.41 205.47,99.93 205.71,99.44 C205.96,98.95 206.20,98.46 206.44,97.97 C206.68,97.48 206.92,96.99 207.15,96.49 C207.39,96.00 207.62,95.51 207.86,95.02 C208.09,94.52 208.32,94.03 208.55,93.54 C208.77,93.04 209.00,92.55 209.22,92.05 C209.45,91.56 209.67,91.06 209.89,90.56 C210.11,90.07 210.32,89.57 210.54,89.07 C210.75,88.57 210.96,88.07 211.17,87.57 C211.38,87.07 211.59,86.57 211.80,86.07 C212.00,85.57 212.20,85.07 212.41,84.56 C212.61,84.06 212.80,83.55 213.00,83.05 C213.20,82.54 213.39,82.04 213.58,81.53 C213.77,81.02 213.96,80.52 214.15,80.01 C214.33,79.50 214.52,78.99 214.70,78.48 C214.88,77.97 215.06,77.46 215.23,76.94 C215.41,76.43 215.58,75.92 215.75,75.40 C215.93,74.89 216.09,74.37 216.26,73.85 C216.43,73.34 216.59,72.82 216.75,72.30 C216.91,71.78 217.07,71.26 217.23,70.74 C217.38,70.22 217.54,69.70 217.69,69.18 C217.84,68.65 217.99,68.13 218.14,67.61 C218.28,67.08 218.43,66.56 218.57,66.03 C218.71,65.51 218.85,64.98 218.99,64.45 C219.13,63.93 219.27,63.40 219.40,62.87 C219.54,62.34 219.67,61.81 219.80,61.28 C219.93,60.75 220.06,60.22 220.18,59.69 C220.31,59.16 220.43,58.63 220.55,58.09 C220.68,57.56 220.80,57.03 220.91,56.49 C221.03,55.96 221.15,55.43 221.26,54.89 C221.38,54.36 221.49,53.82 221.60,53.28 C221.71,52.75 221.82,52.21 221.93,51.68 C222.04,51.14 222.14,50.60 222.25,50.06 C222.35,49.53 222.46,48.99 222.56,48.45 C222.66,47.91 222.76,47.37 222.86,46.83 C222.95,46.30 223.05,45.76 223.15,45.22 C223.24,44.68 223.34,44.14 223.43,43.60 C223.52,43.06 223.61,42.52 223.70,41.98 C223.79,41.44 223.88,40.90 223.97,40.35 C224.05,39.81 224.14,39.27 224.22,38.73 C224.31,38.19 224.39,37.65 224.47,37.11 C224.56,36.57 224.64,36.03 224.72,35.48 C224.80,34.94 224.88,34.40 224.95,33.86 C225.03,33.32 225.11,32.78 225.18,32.23 C225.26,31.69 225.33,31.15 225.41,30.61 C225.48,30.07 225.56,29.53 225.63,28.99 C225.70,28.44 225.77,27.90 225.84,27.36 C225.91,26.82 225.98,26.28 226.05,25.74 C226.12,25.20 226.19,24.66 226.25,24.12 C226.32,23.58 226.39,23.04 226.45,22.50 C226.52,21.96 226.58,21.42 226.65,20.88 C226.71,20.34 226.78,19.80 226.84,19.26 C226.90,18.73 226.97,18.19 227.03,17.65 C227.09,17.11 227.19,16.31 227.22,16.04" fill="none" stroke="#000" stroke-width="2.4" stroke-linejoin="round"/>
<path d="M312.80,239.83 C312.90,239.68 313.19,239.22 313.39,238.92 C313.58,238.62 313.78,238.31 313.98,238.01 C314.18,237.71 314.38,237.41 314.58,237.10 C314.78,236.80 314.98,236.50 315.18,236.20 C315.38,235.90 315.58,235.60 315.79,235.30 C315.99,235.00 316.19,234.70 316.40,234.40 C316.60,234.11 316.81,233.81 317.01,233.51 C317.22,233.21 317.43,232.92 317.63,232.62 C317.84,232.33 318.05,232.03 318.26,231.74 C318.47,231.44 318.68,231.15 318.89,230.86 C319.10,230.56 319.31,230.27 319.52,229.98 C319.73,229.69 319.94,229.39 320.16,229.10 C320.37,228.81 320.59,228.52 320.80,228.23 C321.02,227.94 321.23,227.66 321.45,227.37 C321.66,227.08 321.88,226.79 322.10,226.50 C322.32,226.22 322.53,225.93 322.75,225.64 C322.97,225.36 323.19,225.07 323.41,224.79 C323.63,224.50 323.85,224.22 324.07,223.93 C324.30,223.65 324.52,223.37 324.74,223.09 C324.97,222.82 325.19,222.54 325.41,222.26 C325.64,221.98 325.86,221.70 326.09,221.43 C326.32,221.15 326.54,220.87 326.77,220.60 C327.00,220.32 327.23,220.05 327.45,219.77 C327.68,219.50 327.91,219.23 328.14,218.95 C328.37,218.68 328.60,218.41 328.83,218.13 C329.07,217.86 329.30,217.59 329.53,217.32 C329.76,217.05 330.00,216.79 330.23,216.53 C330.47,216.27 330.70,216.03 330.94,215.78 C331.17,215.53 331.41,215.28 331.64,215.04 C331.88,214.79 332.12,214.54 332.36,214.30 C332.59,214.05 332.83,213.80 333.07,213.56 C333.31,213.31 333.55,213.07 333.79,212.83 C334.03,212.58 334.27,212.34 334.52,212.10 C334.76,211.86 335.00,211.61 335.24,211.37 C335.49,211.13 335.73,210.88 335.98,210.65 C336.22,210.42 336.46,210.22 336.71,210.00 C336.96,209.78 337.20,209.57 337.45,209.35 C337.70,209.13 337.94,208.92 338.19,208.71 C338.44,208.49 338.69,208.28 338.94,208.07 C339.19,207.85 339.44,207.64 339.69,207.43 C339.94,207.22 340.19,207.01 340.44,206.80 C340.70,206.59 340.95,206.38 341.20,206.19 C341.45,205.99 341.71,205.81 341.96,205.63 C342.22,205.44 342.47,205.26 342.73,205.07 C342.98,204.89 343.24,204.71 343.50,204.52 C343.75,204.33 344.01,204.15 344.27,203.96 C344.53,203.77 344.78,203.57 345.04,203.38 C345.30,203.19 345.56,202.99 345.82,202.80 C346.08,202.61 346.34,202.42 346.61,202.23 C346.87,202.04 347.13,201.85 347.39,201.66 C347.65,201.47 347.92,201.29 348.18,201.10 C348.45,200.91 348.71,200.73 348.97,200.54 C349.24,200.36 349.51,200.19 349.77,199.99 C350.04,199.79 350.30,199.56 350.57,199.34 C350.84,199.12 351.11,198.89 351.37,198.67 C351.64,198.44 351.91,198.22 352.18,198.00 C352.45,197.77 352.72,197.55 352.99,197.33 C353.26,197.11 353.53,196.89 353.80,196.67 C354.08,196.45 354.35,196.23 354.62,196.01 C354.89,195.79 355.17,195.57 355.44,195.35 C355.71,195.13 355.99,194.92 356.26,194.70 C356.54,194.48 356.81,194.27 357.09,194.05 C357.37,193.84 357.64,193.62 357.92,193.41 C358.20,193.20 358.47,192.98 358.75,192.77 C359.03,192.56 359.31,192.35 359.59,192.14 C359.87,191.93 360.15,191.71 360.43,191.51 C360.71,191.30 360.99,191.09 361.27,190.88 C361.55,190.67 361.83,190.46 362.11,190.26 C362.40,190.05 362.68,189.84 362.96,189.64 C363.24,189.43 363.53,189.23 363.81,189.03 C364.10,188.82 364.38,188.62 364.67,188.42 C364.95,188.21 365.24,188.01 365.52,187.81 C365.81,187.61 366.10,187.40 366.38,187.20 C366.67,187.00 366.96,186.80 367.25,186.60 C367.54,186.40 367.82,186.21 368.11,186.01 C368.40,185.81 368.69,185.61 368.98,185.42 C369.27,185.22 369.56,185.02 369.85,184.83 C370.14,184.63 370.44,184.44 370.73,184.25 C371.02,184.05 371.31,183.86 371.61,183.67 C371.90,183.48 372.19,183.28 372.49,183.09 C372.78,182.90 373.07,182.71 373.37,182.52 C373.66,182.33 373.96,182.15 374.25,181.96 C374.55,181.77 374.85,181.58 375.14,181.40 C375.44,181.21 375.74,181.02 376.03,180.84 C376.33,180.65 376.63,180.47 376.93,180.29 C377.23,180.10 377.52,179.92 377.82,179.74 C378.12,179.56 378.42,179.38 378.72,179.20 C379.02,179.01 379.32,178.83 379.62,178.66 C379.93,178.48 380.23,178.30 380.53,178.12 C380.83,177.94 381.13,177.77 381.44,177.59 C381.74,177.41 382.04,177.24 382.35,177.06 C382.65,176.89 382.95,176.72 383.26,176.54 C383.56,176.37 383.87,176.20 384.17,176.03 C384.48,175.85 384.78,175.68 385.09,175.51 C385.40,175.34 385.70,175.17 386.01,175.00 C386.32,174.84 386.62,174.67 386.93,174.50 C387.24,174.33 387.55,174.17 387.85,174.00 C388.16,173.84 388.47,173.67 388.78,173.51 C389.09,173.34 389.40,173.18 389.71,173.02 C390.02,172.85 390.33,172.69 390.64,172.53 C390.95,172.37 391.26,172.21 391.58,172.05 C391.89,171.89 392.20,171.73 392.51,171.57 C392.82,171.41 393.14,171.26 393.45,171.10 C393.76,170.94 394.08,170.79 394.39,170.63 C394.70,170.48 395.02,170.32 395.33,170.17 C395.65,170.02 395.96,169.86 396.28,169.71 C396.59,169.56 396.91,169.41 397.23,169.26 C397.54,169.11 397.86,168.96 398.17,168.81 C398.49,168.66 398.81,168.51 399.13,168.37 C399.44,168.22 399.76,168.07 400.08,167.93 C400.40,167.78 400.72,167.65 401.04,167.51 C401.35,167.37 401.67,167.23 401.99,167.09 C402.31,166.96 402.63,166.82 402.95,166.69 C403.27,166.55 403.59,166.42 403.91,166.28 C404.24,166.15 404.56,166.01 404.88,165.88 C405.20,165.75 405.52,165.62 405.84,165.49 C406.17,165.36 406.49,165.23 406.81,165.10 C407.13,164.97 407.46,164.84 407.78,164.71 C408.11,164.58 408.43,164.46 408.75,164.33 C409.08,164.20 409.40,164.08 409.73,163.95 C410.05,163.83 410.38,163.71 410.70,163.58 C411.03,163.46 411.35,163.34 411.68,163.22 C412.01,163.10 412.33,162.98 412.66,162.86 C412.98,162.74 413.31,162.62 413.64,162.50 C413.97,162.38 414.29,162.26 414.62,162.15 C414.95,162.03 415.28,161.92 415.61,161.80 C415.93,161.69 416.26,161.57 416.59,161.46 C416.92,161.35 417.25,161.23 417.58,161.12 C417.91,161.01 418.24,160.90 418.57,160.79 C418.90,160.68 419.23,160.57 419.56,160.46 C419.89,160.35 420.22,160.25 420.55,160.14 C420.88,160.03 421.22,159.93 421.55,159.82 C421.88,159.72 422.21,159.61 422.54,159.51 C422.88,159.41 423.21,159.30 423.54,159.20 C423.87,159.10 424.21,159.00 424.54,158.90 C424.87,158.80 425.21,158.70 425.54,158.60 C425.87,158.50 426.21,158.41 426.54,158.31 C426.88,158.21 427.21,158.12 427.55,158.02 C427.88,157.93 428.22,157.83 428.55,157.74 C428.89,157.65 429.22,157.55 429.56,157.46 C429.89,157.37 430.23,157.28 430.57,157.19 C430.90,157.10 431.24,157.01 431.58,156.92 C431.91,156.83 432.25,156.75 432.59,156.66 C432.92,156.57 433.26,156.49 433.60,156.40 C433.94,156.32 434.27,156.23 434.61,156.15 C434.95,156.07 435.29,155.98 435.63,155.90 C435.96,155.82 436.30,155.74 436.64,155.66 C436.98,155.58 437.32,155.51 437.66,155.43 C438.00,155.35 438.34,155.28 438.68,155.20 C439.02,155.12 439.36,155.05 439.70,154.98 C440.04,154.90 440.38,154.83 440.72,154.76 C441.06,154.69 441.40,154.61 441.74,154.54 C442.08,154.47 442.42,154.40 442.76,154.34 C443.10,154.27 443.45,154.20 443.79,154.13 C444.13,154.06 444.47,154.00 444.81,153.93 C445.15,153.87 445.50,153.80 445.84,153.74 C446.18,153.68 446.52,153.61 446.87,153.55 C447.21,153.49 447.55,153.43 447.89,153.37 C448.24,153.31 448.58,153.25 448.92,153.19 C449.27,153.13 449.61,153.08 449.95,153.02 C450.30,152.96 450.64,152.91 450.99,152.85 C451.33,152.80 451.67,152.74 452.02,152.69 C452.36,152.64 452.71,152.59 453.05,152.54 C453.40,152.48 453.74,152.43 454.09,152.38 C454.43,152.33 454.77,152.29 455.12,152.24 C455.47,152.19 455.81,152.14 456.16,152.10 C456.50,152.05 456.85,152.01 457.19,151.96 C457.54,151.92 457.88,151.87 458.23,151.83 C458.58,151.79 458.92,151.75 459.27,151.71 C459.61,151.67 459.96,151.63 460.31,151.59 C460.65,151.55 461.00,151.51 461.35,151.47 C461.69,151.44 462.04,151.40 462.39,151.37 C462.73,151.33 463.08,151.30 463.43,151.26 C463.77,151.23 464.12,151.20 464.47,151.16 C464.82,151.13 465.16,151.10 465.51,151.07 C465.86,151.04 466.21,151.01 466.55,150.99 C466.90,150.96 467.25,150.93 467.60,150.90 C467.95,150.88 468.29,150.85 468.64,150.83 C468.99,150.80 469.34,150.78 469.69,150.76 C470.04,150.73 470.38,150.70 470.73,150.68 C471.08,150.65 471.43,150.62 471.78,150.60 C472.13,150.57 472.47,150.55 472.82,150.53 C473.17,150.50 473.52,150.48 473.87,150.46 C474.22,150.44 474.57,150.41 474.92,150.39 C475.27,150.37 475.62,150.36 475.96,150.34 C476.31,150.32 476.66,150.30 477.01,150.29 C477.36,150.27 477.71,150.25 478.06,150.24 C478.41,150.23 478.76,150.21 479.11,150.20 C479.46,150.19 479.81,150.18 480.16,150.16 C480.51,150.15 480.86,150.14 481.21,150.14 C481.56,150.13 481.91,150.12 482.26,150.11 C482.61,150.10 482.96,150.10 483.31,150.09 C483.66,150.08 484.01,150.07 484.36,150.07 C484.71,150.06 485.06,150.05 485.41,150.05 C485.76,150.04 486.11,150.04 486.46,150.03 C486.81,150.03 487.16,150.03 487.51,150.03 C487.86,150.03 488.21,150.02 488.56,150.02 C488.91,150.03 489.26,150.03 489.61,150.03 C489.96,150.03 490.48,150.04 490.66,150.04 L492.2,155.6" fill="none" stroke="#000" stroke-width="2.4" stroke-linejoin="round"/>
<rect x="70.00" y="4.40" width="430.50" height="266.00" fill="none" stroke="#737373" stroke-width="1"/>
<path d="M72.09,270.40 v-2.50 M72.09,4.40 v2.50 M78.40,270.40 v-4.20 M78.40,4.40 v4.20 M119.89,270.40 v-2.50 M119.89,4.40 v2.50 M144.16,270.40 v-2.50 M144.16,4.40 v2.50 M161.38,270.40 v-2.50 M161.38,4.40 v2.50 M174.74,270.40 v-4.20 M174.74,4.40 v4.20 M185.65,270.40 v-2.50 M185.65,4.40 v2.50 M194.88,270.40 v-2.50 M194.88,4.40 v2.50 M202.87,270.40 v-2.50 M202.87,4.40 v2.50 M209.92,270.40 v-2.50 M209.92,4.40 v2.50 M216.23,270.40 v-4.20 M216.23,4.40 v4.20 M257.72,270.40 v-2.50 M257.72,4.40 v2.50 M281.99,270.40 v-2.50 M281.99,4.40 v2.50 M299.21,270.40 v-2.50 M299.21,4.40 v2.50 M312.57,270.40 v-4.20 M312.57,4.40 v4.20 M323.48,270.40 v-2.50 M323.48,4.40 v2.50 M332.71,270.40 v-2.50 M332.71,4.40 v2.50 M340.70,270.40 v-2.50 M340.70,4.40 v2.50 M347.75,270.40 v-2.50 M347.75,4.40 v2.50 M354.06,270.40 v-4.20 M354.06,4.40 v4.20 M395.55,270.40 v-2.50 M395.55,4.40 v2.50 M419.82,270.40 v-2.50 M419.82,4.40 v2.50 M437.04,270.40 v-2.50 M437.04,4.40 v2.50 M450.40,270.40 v-4.20 M450.40,4.40 v4.20 M461.31,270.40 v-2.50 M461.31,4.40 v2.50 M470.54,270.40 v-2.50 M470.54,4.40 v2.50 M478.53,270.40 v-2.50 M478.53,4.40 v2.50 M485.58,270.40 v-2.50 M485.58,4.40 v2.50 M491.89,270.40 v-4.20 M491.89,4.40 v4.20 M70.00,266.92 h2.50 M500.50,266.92 h-2.50 M70.00,258.56 h2.50 M500.50,258.56 h-2.50 M70.00,250.21 h2.50 M500.50,250.21 h-2.50 M70.00,241.85 h2.50 M500.50,241.85 h-2.50 M70.00,233.50 h4.20 M500.50,233.50 h-4.20 M70.00,225.14 h2.50 M500.50,225.14 h-2.50 M70.00,216.79 h2.50 M500.50,216.79 h-2.50 M70.00,208.44 h2.50 M500.50,208.44 h-2.50 M70.00,200.08 h2.50 M500.50,200.08 h-2.50 M70.00,191.72 h4.20 M500.50,191.72 h-4.20 M70.00,183.37 h2.50 M500.50,183.37 h-2.50 M70.00,175.01 h2.50 M500.50,175.01 h-2.50 M70.00,166.66 h2.50 M500.50,166.66 h-2.50 M70.00,158.30 h2.50 M500.50,158.30 h-2.50 M70.00,149.95 h4.20 M500.50,149.95 h-4.20 M70.00,141.59 h2.50 M500.50,141.59 h-2.50 M70.00,133.24 h2.50 M500.50,133.24 h-2.50 M70.00,124.88 h2.50 M500.50,124.88 h-2.50 M70.00,116.53 h2.50 M500.50,116.53 h-2.50 M70.00,108.17 h4.20 M500.50,108.17 h-4.20 M70.00,99.82 h2.50 M500.50,99.82 h-2.50 M70.00,91.46 h2.50 M500.50,91.46 h-2.50 M70.00,83.11 h2.50 M500.50,83.11 h-2.50 M70.00,74.75 h2.50 M500.50,74.75 h-2.50 M70.00,66.40 h4.20 M500.50,66.40 h-4.20 M70.00,58.04 h2.50 M500.50,58.04 h-2.50 M70.00,49.69 h2.50 M500.50,49.69 h-2.50 M70.00,41.33 h2.50 M500.50,41.33 h-2.50 M70.00,32.98 h2.50 M500.50,32.98 h-2.50 M70.00,24.62 h4.20 M500.50,24.62 h-4.20 M70.00,16.27 h2.50 M500.50,16.27 h-2.50 M70.00,7.91 h2.50 M500.50,7.91 h-2.50" fill="none" stroke="#737373" stroke-width="1"/>
<text x="78.40" y="285.30" text-anchor="middle" font-size="14" fill="#737373">0.001</text>
<text x="174.74" y="285.30" text-anchor="middle" font-size="14" fill="#737373">0.005</text>
<text x="216.23" y="285.30" text-anchor="middle" font-size="14" fill="#737373">0.010</text>
<text x="312.57" y="285.30" text-anchor="middle" font-size="14" fill="#737373">0.050</text>
<text x="354.06" y="285.30" text-anchor="middle" font-size="14" fill="#737373">0.100</text>
<text x="450.40" y="285.30" text-anchor="middle" font-size="14" fill="#737373">0.500</text>
<text x="491.89" y="285.30" text-anchor="middle" font-size="14" fill="#737373">1</text>
<text x="65.50" y="28.93" text-anchor="end" font-size="14" fill="#737373">0.15</text>
<text x="65.50" y="70.70" text-anchor="end" font-size="14" fill="#737373">0.10</text>
<text x="65.50" y="112.47" text-anchor="end" font-size="14" fill="#737373">0.05</text>
<text x="65.50" y="154.25" text-anchor="end" font-size="14" fill="#737373">0.00</text>
<line x1="29.3" x2="36.5" y1="191.22" y2="191.22" stroke="#737373" stroke-width="1.1"/>
<text x="65.50" y="196.03" text-anchor="end" font-size="14" fill="#737373">0.05</text>
<line x1="29.3" x2="36.5" y1="233.00" y2="233.00" stroke="#737373" stroke-width="1.1"/>
<text x="65.50" y="237.80" text-anchor="end" font-size="14" fill="#737373">0.10</text>
<text x="285.7" y="306.7" text-anchor="middle" font-size="14" font-style="italic" fill="#737373">x</text>
<g transform="translate(16.90,190.30) rotate(-90)"><text x="-1.20" y="0.00" font-size="14" fill="#737373">r</text><text x="4.30" y="0.00" font-size="14" fill="#737373">[</text><text x="8.40" y="0.00" font-size="14" fill="#737373">Δ</text><text x="17.50" y="0.00" font-size="14" fill="#737373">Σ</text><text x="27.60" y="-7.50" font-size="11.5" fill="#737373">NNLO</text><text x="62.50" y="0.00" font-size="14" fill="#737373">(</text><text x="66.80" y="0.00" font-size="14" fill="#737373">x</text><text x="74.30" y="0.00" font-size="14" fill="#737373">,</text><text x="79.00" y="0.00" font-size="14" font-style="italic" fill="#737373">Q</text><text x="89.50" y="-7.50" font-size="11" fill="#737373">2</text><text x="96.80" y="0.00" font-size="14" fill="#737373">)</text><text x="102.00" y="0.00" font-size="14" fill="#737373">]</text></g>
</svg>
</body></html>
